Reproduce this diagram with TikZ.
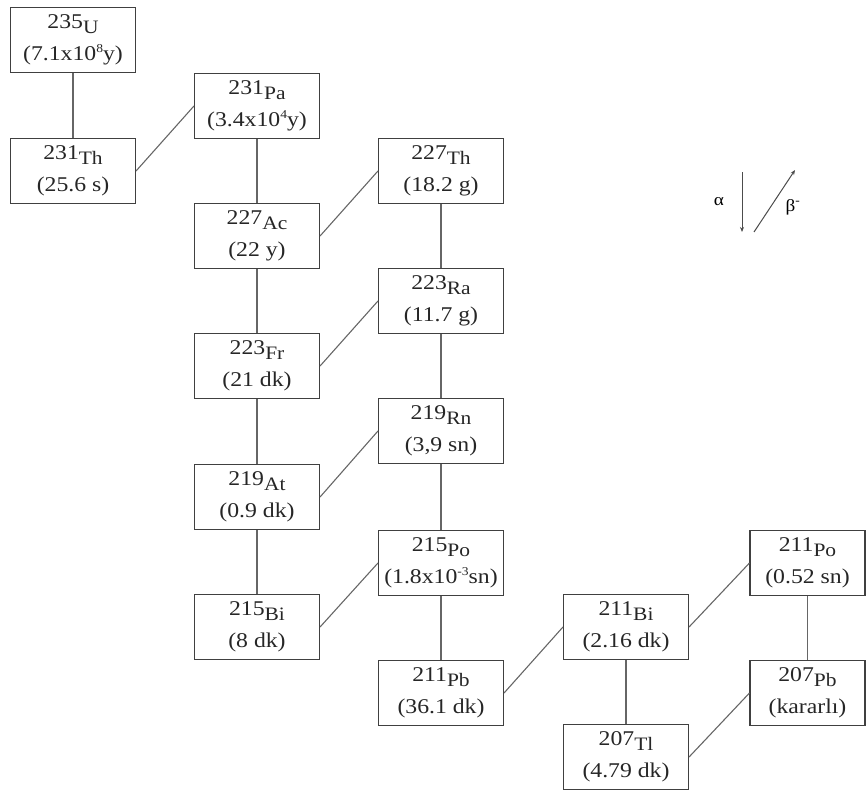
\documentclass[tikz,border=0pt]{standalone}
\usepackage{fontspec}
\setmainfont[FakeStretch=1.13]{Liberation Serif}
\usetikzlibrary{arrows.meta}
\newcommand{\iso}[2]{\raisebox{5pt}{#1}{\fontsize{19}{19}\selectfont #2}}
\newcommand{\pw}[1]{{\fontsize{12}{12}\selectfont\raisebox{8pt}{#1}}}
\begin{document}
\begin{tikzpicture}[x=1pt,y=-1pt,
  nuc/.style={draw=black!75, line width=1.1pt, rectangle, minimum width=125pt, minimum height=65pt,
    inner sep=0pt, align=center, text=black!85, font=\fontsize{21}{27}\selectfont},
  link/.style={draw=black!60, line width=1.1pt},
  leg/.style={draw=black!70, line width=1pt, -{Stealth[length=5pt,width=4pt]}}]
\useasboundingbox (0,0) rectangle (866,793);
% column centres: 73, 257, 441, 626, 808 ; row centres 40 + 65.3 r
\node[nuc] (U235)  at (73,40)   {\iso{235}{U}\\(7.1x10\pw{8}y)};
\node[nuc] (Th231) at (73,171)  {\iso{231}{Th}\\(25.6 s)};
\node[nuc] (Pa231) at (257,106) {\iso{231}{Pa}\\(3.4x10\pw{4}y)};
\node[nuc] (Ac227) at (257,236) {\iso{227}{Ac}\\(22 y)};
\node[nuc] (Fr223) at (257,366) {\iso{223}{Fr}\\(21 dk)};
\node[nuc] (At219) at (257,497) {\iso{219}{At}\\(0.9 dk)};
\node[nuc] (Bi215) at (257,627) {\iso{215}{Bi}\\(8 dk)};
\node[nuc] (Th227) at (441,171) {\iso{227}{Th}\\(18.2 g)};
\node[nuc] (Ra223) at (441,301) {\iso{223}{Ra}\\(11.7 g)};
\node[nuc] (Rn219) at (441,431) {\iso{219}{Rn}\\(3,9 sn)};
\node[nuc] (Po215) at (441,563) {\iso{215}{Po}\\(1.8x10\pw{-3}sn)};
\node[nuc] (Pb211) at (441,693) {\iso{211}{Pb}\\(36.1 dk)};
\node[nuc] (Bi211) at (626,627) {\iso{211}{Bi}\\(2.16 dk)};
\node[nuc] (Tl207) at (626,757) {\iso{207}{Tl}\\(4.79 dk)};
\node[nuc, minimum width=115pt] (Po211) at (807.5,563) {\iso{211}{Po}\\(0.52 sn)};
\node[nuc, minimum width=115pt] (Pb207) at (807.5,693) {\iso{207}{Pb}\\(kararlı)};
% alpha decays (vertical)
\draw[link] (U235) -- (Th231);
\draw[link] (Pa231) -- (Ac227);
\draw[link] (Ac227) -- (Fr223);
\draw[link] (Fr223) -- (At219);
\draw[link] (At219) -- (Bi215);
\draw[link] (Th227) -- (Ra223);
\draw[link] (Ra223) -- (Rn219);
\draw[link] (Rn219) -- (Po215);
\draw[link] (Po215) -- (Pb211);
\draw[link] (Bi211) -- (Tl207);
\draw[link] (Po211) -- (Pb207);
% beta decays (diagonal)
\draw[link] (Th231.east) -- (Pa231.west);
\draw[link] (Ac227.east) -- (Th227.west);
\draw[link] (Fr223.east) -- (Ra223.west);
\draw[link] (At219.east) -- (Rn219.west);
\draw[link] (Bi215.east) -- (Po215.west);
\draw[link] (Pb211.east) -- (Bi211.west);
\draw[link] (Bi211.east) -- (Po211.west);
\draw[link] (Tl207.east) -- (Pb207.west);
% legend
\coordinate (a1) at (742,172);
\coordinate (a2) at (742,232);
\coordinate (b1) at (754,232);
\coordinate (b2) at (795,170);
\draw[leg] (a1) -- (a2);
\draw[leg] (b1) -- (b2);
\node[font=\fontsize{17}{17}\selectfont] (alab) at (719,202) {α};
\node[font=\fontsize{17}{17}\selectfont] (blab) at (793,207) {β\textsuperscript{-}};
\end{tikzpicture}
\end{document}
